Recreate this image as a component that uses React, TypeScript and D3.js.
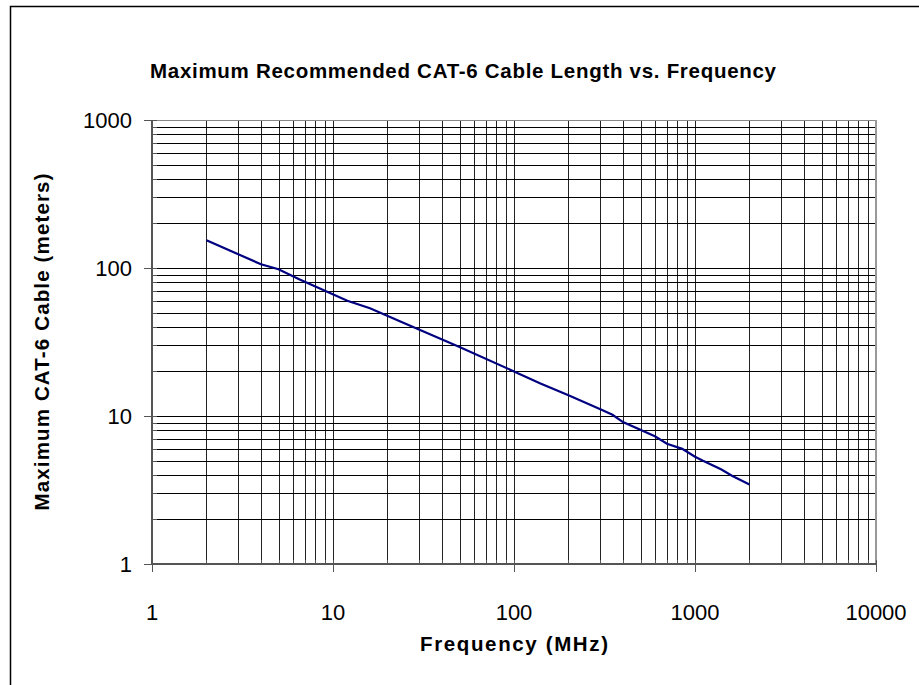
import React, { useEffect, useRef } from 'react';
import * as d3 from 'd3';

const frequencies = [2, 4, 5, 6.5, 12, 16, 25, 50, 100, 140, 200, 300, 350, 400, 600, 700, 850, 1000, 1100, 1400, 1600, 2000];
const lengths = [154, 106, 98, 84, 60, 53.4, 42.1, 29.3, 20.0, 16.6, 13.8, 11.1, 10.2, 9.1, 7.3, 6.5, 6.0, 5.3, 5.0, 4.35, 3.95, 3.45];
const xTickLabels = [1, 10, 100, 1000, 10000];
const yTickLabels = [1, 10, 100, 1000];

const title = 'Maximum Recommended CAT-6 Cable Length vs. Frequency';
const xTitle = 'Frequency (MHz)';
const yTitle = 'Maximum CAT-6 Cable (meters)';

const minorSteps = (lo: number, hi: number) => {
  const out: number[] = [];
  for (let d = lo; d < hi; d *= 10) {
    for (let k = 1; k <= 9; k++) out.push(d * k);
  }
  out.push(hi);
  return out;
};

const App = () => {
  const ref = useRef<SVGSVGElement>(null);

  useEffect(() => {
    const svg = d3.select(ref.current);
    svg.selectAll('*').remove();

    const width = 919;
    const height = 685;
    const plot = { left: 152, right: 876, top: 120, bottom: 564 };
    const font = 'Liberation Sans, Arial, sans-serif';

    const x = d3.scaleLog().domain([1, 10000]).range([plot.left, plot.right]);
    const y = d3.scaleLog().domain([1, 1000]).range([plot.bottom, plot.top]);

    svg.append('rect')
      .attr('width', width).attr('height', height).attr('fill', '#fff');

    // outer frame
    svg.append('rect')
      .attr('x', 10.5).attr('y', 6.5)
      .attr('width', 1000).attr('height', 1000)
      .attr('fill', 'none').attr('stroke', '#000').attr('stroke-width', 1.5);

    const xMinor = minorSteps(1, 10000);
    const yMinor = minorSteps(1, 1000);

    // gridlines
    svg.append('g')
      .selectAll('line')
      .data(xMinor)
      .join('line')
      .attr('x1', d => Math.round(x(d)) + 0.5).attr('x2', d => Math.round(x(d)) + 0.5)
      .attr('y1', plot.top).attr('y2', plot.bottom)
      .attr('stroke', '#222').attr('stroke-width', 1);

    svg.append('g')
      .selectAll('line')
      .data(yMinor)
      .join('line')
      .attr('y1', d => Math.round(y(d)) + 0.5).attr('y2', d => Math.round(y(d)) + 0.5)
      .attr('x1', plot.left).attr('x2', plot.right)
      .attr('stroke', '#000').attr('stroke-width', 1);

    // plot border (gray top/right)
    svg.append('line')
      .attr('x1', plot.left).attr('x2', plot.right)
      .attr('y1', plot.top + 0.5).attr('y2', plot.top + 0.5)
      .attr('stroke', '#888').attr('stroke-width', 1);
    svg.append('line')
      .attr('x1', plot.right).attr('x2', plot.right)
      .attr('y1', plot.top).attr('y2', plot.bottom)
      .attr('stroke', '#999').attr('stroke-width', 2);

    // x axis
    const xAxis = svg.append('g');
    xAxis.append('line')
      .attr('x1', plot.left - 1).attr('x2', plot.right)
      .attr('y1', plot.bottom).attr('y2', plot.bottom)
      .attr('stroke', '#555').attr('stroke-width', 2);
    xAxis.selectAll('line.minor')
      .data(xMinor)
      .join('line')
      .attr('class', 'minor')
      .attr('x1', d => Math.round(x(d)) + 0.5).attr('x2', d => Math.round(x(d)) + 0.5)
      .attr('y1', plot.bottom - 4).attr('y2', plot.bottom)
      .attr('stroke', '#555');
    xAxis.selectAll('line.major')
      .data(xTickLabels)
      .join('line')
      .attr('class', 'major')
      .attr('x1', d => Math.round(x(d)) + 0.5).attr('x2', d => Math.round(x(d)) + 0.5)
      .attr('y1', plot.bottom).attr('y2', plot.bottom + 8)
      .attr('stroke', '#555');
    xAxis.selectAll('text')
      .data(xTickLabels)
      .join('text')
      .attr('x', d => x(d)).attr('y', 620)
      .attr('text-anchor', 'middle')
      .attr('font-family', font).attr('font-size', 22)
      .text(d => String(d));

    // y axis
    const yAxis = svg.append('g');
    yAxis.append('line')
      .attr('x1', plot.left).attr('x2', plot.left)
      .attr('y1', plot.top).attr('y2', plot.bottom + 1)
      .attr('stroke', '#555').attr('stroke-width', 2);
    yAxis.selectAll('line.minor')
      .data(yMinor)
      .join('line')
      .attr('class', 'minor')
      .attr('y1', d => Math.round(y(d)) + 0.5).attr('y2', d => Math.round(y(d)) + 0.5)
      .attr('x1', plot.left).attr('x2', plot.left + 5)
      .attr('stroke', '#555');
    yAxis.selectAll('line.major')
      .data(yTickLabels)
      .join('line')
      .attr('class', 'major')
      .attr('y1', d => Math.round(y(d)) + 0.5).attr('y2', d => Math.round(y(d)) + 0.5)
      .attr('x1', plot.left - 8).attr('x2', plot.left)
      .attr('stroke', '#555');
    yAxis.selectAll('text')
      .data(yTickLabels)
      .join('text')
      .attr('x', 132).attr('y', d => y(d) + 8)
      .attr('text-anchor', 'end')
      .attr('font-family', font).attr('font-size', 22)
      .text(d => String(d));

    // data line
    const line = d3.line<number>()
      .x((_, i) => x(frequencies[i]))
      .y(d => y(d));
    svg.append('path')
      .datum(lengths)
      .attr('fill', 'none')
      .attr('stroke', '#000080')
      .attr('stroke-width', 2.2)
      .attr('d', line);

    // titles
    svg.append('text')
      .attr('x', 463).attr('y', 78)
      .attr('text-anchor', 'middle')
      .attr('font-family', font).attr('font-size', 20.5).attr('font-weight', 'bold')
      .attr('textLength', 626).attr('lengthAdjust', 'spacing')
      .text(title);
    svg.append('text')
      .attr('x', 514).attr('y', 651)
      .attr('text-anchor', 'middle')
      .attr('font-family', font).attr('font-size', 20.5).attr('font-weight', 'bold')
      .attr('textLength', 188).attr('lengthAdjust', 'spacing')
      .text(xTitle);
    svg.append('text')
      .attr('transform', `translate(49,${(plot.top + plot.bottom) / 2}) rotate(-90)`)
      .attr('text-anchor', 'middle')
      .attr('font-family', font).attr('font-size', 20.5).attr('font-weight', 'bold')
      .attr('textLength', 337).attr('lengthAdjust', 'spacing')
      .text(yTitle);
  }, []);

  return (
    <div style={{ position: 'fixed', left: 0, top: 0 }}>
      <svg ref={ref} width={919} height={685} style={{ display: 'block' }} />
    </div>
  );
};

export default App;
